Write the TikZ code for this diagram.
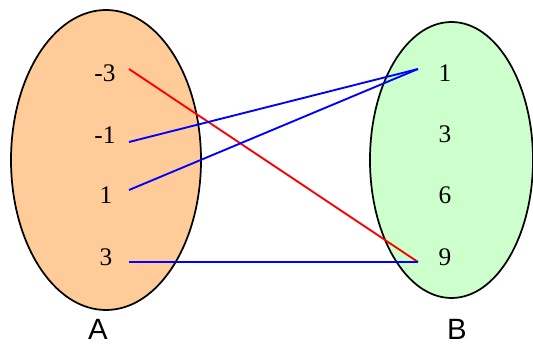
\documentclass[tikz,border=0pt]{standalone}
\usepackage{fontspec}
\setmainfont{Liberation Serif}
\setsansfont{Liberation Sans}
\usepackage{xcolor}

\definecolor{setorange}{HTML}{FFCC99}
\definecolor{setgreen}{HTML}{CCFFCC}

\begin{document}
\begin{tikzpicture}[x=0.75pt, y=-0.75pt,
    elem/.style={font=\fontsize{19}{21}\selectfont},
    setname/.style={font=\sffamily\fontsize{22}{24}\selectfont},
    maparrow/.style={line width=1.4pt}]
    \useasboundingbox (0,0) rectangle (533,345);

    % Mengdene A og B
    \draw[fill=setorange, line width=1.3pt] (106,160) ellipse [x radius=95, y radius=150];
    \draw[fill=setgreen, line width=1.3pt] (451.5,160) ellipse [x radius=81.5, y radius=138];

    % Elementer i A
    \node[elem] (am3) at (105,73) {-3};
    \node[elem] (am1) at (105,135) {-1};
    \node[elem] (a1) at (106,195) {1};
    \node[elem] (a3) at (106,257) {3};

    % Elementer i B
    \node[elem] (b1) at (445,73) {1};
    \node[elem] (b3) at (445,134) {3};
    \node[elem] (b6) at (445,195) {6};
    \node[elem] (b9) at (445,257) {9};

    % Navn
    \node[setname] (A) at (98,329) {A};
    \node[setname] (B) at (457,329) {B};

    % Endepunkter for pilene
    \coordinate (pm3) at (129,69);
    \coordinate (pm1) at (129,142);
    \coordinate (p1) at (129,190);
    \coordinate (p3) at (129,262);
    \coordinate (q1) at (418,69);
    \coordinate (q9) at (418,262);

    % Avbildningen x -> x^2
    \draw[maparrow, red] (pm3) -- (q9);
    \draw[maparrow, blue] (pm1) -- (q1);
    \draw[maparrow, blue] (p1) -- (q1);
    \draw[maparrow, blue] (p3) -- (q9);
\end{tikzpicture}
\end{document}
